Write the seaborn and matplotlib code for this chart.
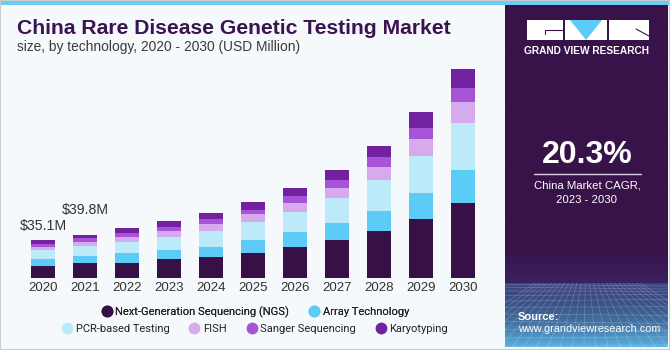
import numpy as np
import pandas as pd
import matplotlib
matplotlib.use("Agg")
import matplotlib.pyplot as plt
import seaborn as sns
from matplotlib.lines import Line2D
from matplotlib.patches import Rectangle, Polygon

# data (USD Million)
years = [2020, 2021, 2022, 2023, 2024, 2025, 2026, 2027, 2028, 2029, 2030]
ngs = [10.9, 13.4, 14.1, 17.5, 19.6, 23.0, 28.2, 34.6, 42.9, 54.3, 69.0]
array_tech = [6.6, 6.5, 8.6, 8.3, 9.2, 11.6, 13.8, 15.6, 19.0, 23.6, 30.6]
pcr = [7.9, 9.3, 10.4, 12.2, 14.7, 16.6, 18.4, 23.0, 27.9, 34.0, 43.0]
fish = [2.8, 3.7, 4.9, 5.2, 6.2, 7.4, 8.6, 9.6, 12.0, 16.3, 19.0]
sanger = [3.3, 3.7, 3.7, 4.0, 4.6, 4.3, 6.7, 7.6, 9.6, 10.1, 13.5]
karyo = [3.6, 3.2, 4.0, 5.0, 5.2, 7.4, 7.4, 9.2, 10.4, 14.1, 17.2]

segments = ["Next-Generation Sequencing (NGS)", "Array Technology", "PCR-based Testing",
            "FISH", "Sanger Sequencing", "Karyotyping"]
colors = ["#381048", "#5ccbf5", "#bdeaf9", "#d6aaec", "#a653d8", "#7221a0"]
labelled_years = [2020, 2021]
label_offsets = [10, 18]  # points above the bar

bg = "#f5f9fc"
dark = "#381349"

df = pd.DataFrame({"year": years, segments[0]: ngs, segments[1]: array_tech, segments[2]: pcr,
                   segments[3]: fish, segments[4]: sanger, segments[5]: karyo})
cum = df[segments].cumsum(axis=1)
cum["year"] = df["year"].astype(str)

sns.set_theme(style="white")
plt.rcParams["font.family"] = ["Liberation Sans", "DejaVu Sans"]

fig = plt.figure(figsize=(6.7, 3.5), dpi=100)
fig.patch.set_facecolor(bg)

# frame: top stripe, thin grey border
fig.add_artist(Rectangle((0, 1 - 5 / 350), 1, 5 / 350, transform=fig.transFigure,
                         color="#6ccdf3", lw=0))
fig.add_artist(Rectangle((0, 0), 1, 1, transform=fig.transFigure, fill=False,
                         ec="#c8ccd0", lw=1.5))

# main bar chart (stacked by drawing cumulative totals, tallest first)
ax = fig.add_axes([17.8 / 670, 72 / 350, 470.4 / 670, 218 / 350])
ax.set_facecolor(bg)
for seg, col in zip(segments[::-1], colors[::-1]):
    sns.barplot(data=cum, x="year", y=seg, color=col, width=0.58, linewidth=0,
                saturation=1, ax=ax)
ax.set_xlim(-0.6, 10.6)
ax.set_ylim(0, 200.6)
ax.set_xlabel("")
ax.set_ylabel("")
ax.set_yticks([])
for s in ax.spines.values():
    s.set_visible(False)
ax.tick_params(axis="x", length=0, pad=3, labelsize=9.5, labelcolor="#333333")

totals = df[segments].sum(axis=1)
for yr, off in zip(labelled_years, label_offsets):
    i = years.index(yr)
    ax.annotate(f"${totals[i]:.1f}M", (i, totals[i]), xytext=(0, off),
                textcoords="offset points", ha="center", va="center",
                fontsize=10.2, color="#333333")

# titles
fig.text(17 / 670, 1 - 28 / 350, "China Rare Disease Genetic Testing Market",
         fontsize=15.2, fontweight="heavy", color="#3a1450", va="center")
fig.text(17 / 670, 1 - 47 / 350, "size, by technology, 2020 - 2030 (USD Million)",
         fontsize=9.9, color="#3a3a3a", va="center")

# legend in two centred rows
handles = [Line2D([], [], marker="o", ls="", ms=7.5, mfc=c, mec=c) for c in colors]
leg_kw = dict(frameon=False, handletextpad=0.3, columnspacing=1.7, borderaxespad=0,
              handlelength=1.0, prop={"family": "Roboto", "size": 8.0, "weight": "normal"})
leg1 = fig.legend(handles[:2], segments[:2], ncol=2, loc="center",
                  bbox_to_anchor=(255 / 670, 1 - 312 / 350), **leg_kw)
leg2 = fig.legend(handles[2:], segments[2:], ncol=4, loc="center",
                  bbox_to_anchor=(255 / 670, 1 - 329 / 350), **leg_kw)
fig.add_artist(leg1)
for leg in (leg1, leg2):
    for t in leg.get_texts():
        t.set_color("#222222")

# right info panel, in pixel coordinates
px = fig.add_axes([505 / 670, 3 / 350, 163 / 670, 342 / 350])
px.set_xlim(505, 668)
px.set_ylim(347, 5)
px.axis("off")
ys = np.linspace(5, 347, 300)
top_c = np.array(matplotlib.colors.to_rgb(dark))
mid_c = np.array(matplotlib.colors.to_rgb("#3c2060"))
low_c = np.array(matplotlib.colors.to_rgb("#3f4a8a"))
bot_c = np.array(matplotlib.colors.to_rgb("#5ab0e0"))
grad = []
for y in ys:
    if y < 250:
        c = top_c
    elif y < 283:
        t = (y - 250) / 33
        c = top_c * (1 - t) + mid_c * t
    else:
        t = (y - 283) / 64
        c = low_c * (1 - t) + bot_c * t ** 1.5
    grad.append(c)
grad = np.array(grad)[:, None, :]
px.imshow(grad, extent=(505, 668, 347, 5), aspect="auto", interpolation="bilinear")

# faint perspective grid at the bottom
for k in range(1, 12):
    y = 283 + 64 * (k / 11) ** 1.6
    px.plot([505, 668], [y, y + 2 * np.sin(k)], color="white", lw=0.5, alpha=0.22)
for xb in np.linspace(440, 740, 26):
    px.plot([586 + (xb - 586) * 0.35, xb], [283, 347], color="white", lw=0.5, alpha=0.22)

# logo
px.add_patch(Rectangle((527, 20), 36, 20, color="white", lw=0))
px.add_patch(Rectangle((565, 20), 42, 20, color="white", lw=0))
px.add_patch(Rectangle((609, 20), 40, 20, color="white", lw=0))
px.add_patch(Polygon([(570, 20), (602, 20), (586, 40)], color="#5ccbf5", lw=0))
px.plot([545, 563], [30, 30], color=dark, lw=0.8)
px.plot([545, 545], [30, 34], color=dark, lw=0.8)
px.plot([636, 649], [29, 36], color=dark, lw=0.8)
px.text(587, 51, "GRAND VIEW RESEARCH", color="white", fontsize=7.3,
        fontweight="bold", ha="center", va="center")

px.text(587, 155, "20.3%", color="white", fontsize=23, fontweight="bold",
        ha="center", va="center")
px.plot([534, 641], [173.5, 173.5], color="#d8d0e0", lw=1)
px.text(587, 185, "China Market CAGR,", color="white", fontsize=8.2, ha="center", va="center")
px.text(587, 200, "2023 - 2030", color="white", fontsize=8.2, ha="center", va="center")
px.text(518, 316.5, "Source:", color="white", fontsize=8.0, fontweight="bold", va="center")
px.text(518, 329.5, "www.grandviewresearch.com", color="white", fontsize=7.8, va="center")

fig.savefig("out.png", dpi=100, facecolor=bg)
